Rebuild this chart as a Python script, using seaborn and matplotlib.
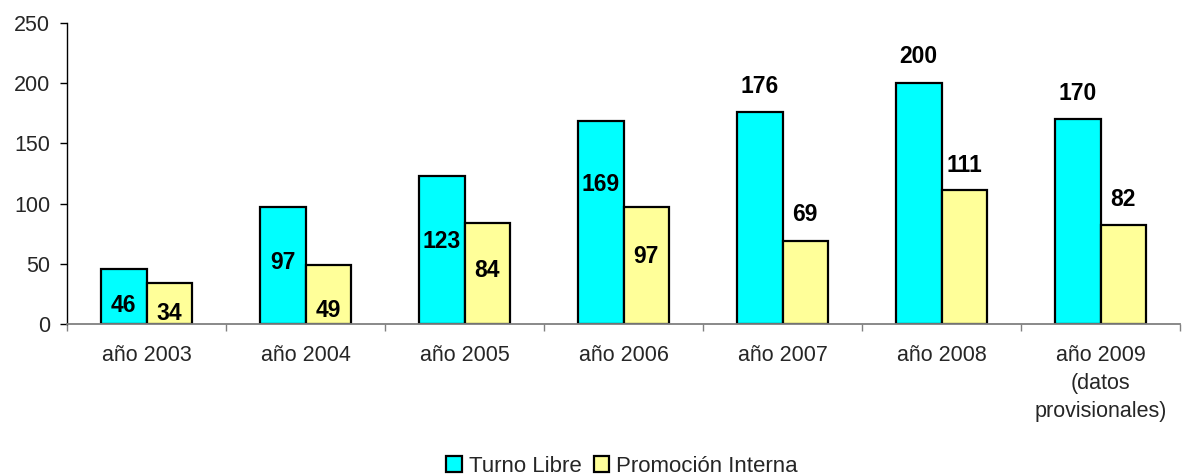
import matplotlib
matplotlib.use("Agg")
import matplotlib.pyplot as plt
import seaborn as sns
import pandas as pd
from matplotlib.ticker import FixedLocator

# Data
years = ["año 2003", "año 2004", "año 2005", "año 2006", "año 2007", "año 2008",
         "año 2009\n(datos\nprovisionales)"]
series = ["Turno Libre", "Promoción Interna"]
turno_libre = [46, 97, 123, 169, 176, 200, 170]
promocion_interna = [34, 49, 84, 97, 69, 111, 82]

# Heights (in data units) where each value label is centred
turno_label_y = [15.6, 51.4, 68.3, 115.6, 197.5, 222.5, 191.4]
promo_label_y = [8.9, 11.4, 44.2, 56.4, 90.6, 131.6, 103.1]

colors = ["#00FFFF", "#FFFF99"]

df = pd.DataFrame({
    "year": years * 2,
    "value": turno_libre + promocion_interna,
    "series": [series[0]] * len(years) + [series[1]] * len(years),
})

sns.set_style("white")
plt.rcParams["font.family"] = ["Liberation Sans", "DejaVu Sans"]

fig = plt.figure(figsize=(11.87, 4.75), dpi=100)
ax = fig.add_axes([67 / 1187, 151 / 475, (1180 - 67) / 1187, 301 / 475])

sns.barplot(data=df, x="year", y="value", hue="series", order=years,
            hue_order=series, palette=colors, saturation=1, width=4 / 7, gap=0,
            edgecolor="black", linewidth=1.6, ax=ax)

# Value labels
for container, label_y in zip(ax.containers, [turno_label_y, promo_label_y]):
    for bar, ly in zip(container, label_y):
        x = bar.get_x() + bar.get_width() / 2
        ax.text(x, ly, f"{bar.get_height():.0f}", ha="center", va="center",
                fontsize=16.5, fontweight="bold", color="black")

ax.set_xlim(-0.5, len(years) - 0.5)
ax.set_ylim(0, 250)
ax.set_yticks([0, 50, 100, 150, 200, 250])
ax.set_xlabel("")
ax.set_ylabel("")

# Category labels centred, tick marks on category boundaries
ax.set_xticks(range(len(years)))
ax.set_xticklabels(years, linespacing=1.45)
ax.xaxis.set_minor_locator(FixedLocator([i - 0.5 for i in range(len(years) + 1)]))
ax.tick_params(axis="x", which="major", length=0, pad=15, labelsize=15.5)
ax.tick_params(axis="x", which="minor", length=5, width=1, color="#808080",
               direction="out", bottom=True)
ax.tick_params(axis="y", which="major", length=5, width=1, color="black",
               direction="out", left=True, pad=7, labelsize=15.5)

for side in ["top", "right"]:
    ax.spines[side].set_visible(False)
ax.spines["left"].set_color("black")
ax.spines["left"].set_linewidth(1)
ax.spines["bottom"].set_color("#808080")
ax.spines["bottom"].set_linewidth(1.3)

handles, labels = ax.get_legend_handles_labels()
ax.get_legend().remove()
fig.legend(handles, labels, loc="center", bbox_to_anchor=(622 / 1187, 9 / 475),
           ncol=2, frameon=False, fontsize=16, handlelength=0.7,
           handleheight=0.7, handletextpad=0.3, columnspacing=0.55,
           borderpad=0, borderaxespad=0)

fig.savefig("out.png", dpi=100, facecolor="white")
